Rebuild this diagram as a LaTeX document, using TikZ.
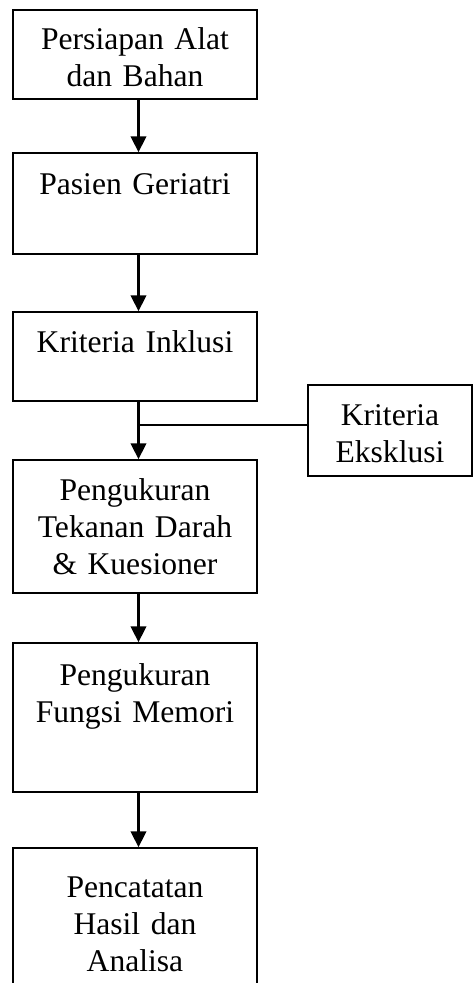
\documentclass[tikz,border=0pt]{standalone}
\usepackage{fontspec}
\setmainfont{Liberation Serif}
\usetikzlibrary{arrows.meta}
\begin{document}
\begin{tikzpicture}[x=1pt,y=-1pt,
  box/.style={draw=black,line width=1.5pt,minimum width=244pt,inner sep=0pt,fill=none},
  lbl/.style={text width=240pt,align=center,anchor=base,inner sep=0pt,font=\fontsize{31.6}{37}\selectfont},
  arr/.style={line width=2.2pt,-{Triangle[length=16pt,width=15.5pt]}},
  thin/.style={line width=1.5pt}]
\clip (0,0) rectangle (473,983);
\fill[white] (0,0) rectangle (473,983);
\coordinate (ax) at (138.5,0);
\node[box,minimum height=89pt] (b1) at (135,54.5) {};
\node[box,minimum height=101pt] (b2) at (135,203.5) {};
\node[box,minimum height=89pt] (b3) at (135,356.5) {};
\node[box,minimum height=133pt] (b4) at (135,526.5) {};
\node[box,minimum height=149pt] (b5) at (135,717.5) {};
\node[box,minimum height=147pt] (b6) at (135,921.5) {};
\node[box,minimum width=164pt,minimum height=91pt] (ek) at (390,430.5) {};
\node[lbl] (t1) at (135,49) {Persiapan Alat\\dan Bahan};
\node[lbl] (t2) at (135,194) {Pasien Geriatri};
\node[lbl] (t3) at (135,352) {Kriteria Inklusi};
\node[lbl,text width=160pt] (tek) at (390,425) {Kriteria\\Eksklusi};
\node[lbl] (t4) at (135,500) {Pengukuran\\Tekanan Darah\\\& Kuesioner};
\node[lbl] (t5) at (135,685) {Pengukuran\\Fungsi Memori};
\node[lbl] (t6) at (135,897) {Pencatatan\\Hasil dan\\Analisa};
\draw[arr] (b1.south -| ax) -- (b2.north -| ax);
\draw[arr] (b2.south -| ax) -- (b3.north -| ax);
\draw[arr] (b3.south -| ax) -- (b4.north -| ax);
\draw[arr] (b4.south -| ax) -- (b5.north -| ax);
\draw[arr] (b5.south -| ax) -- (b6.north -| ax);
\coordinate (j) at (138.5,425);
\draw[thin] (j) -- (j -| ek.west);
\end{tikzpicture}
\end{document}
